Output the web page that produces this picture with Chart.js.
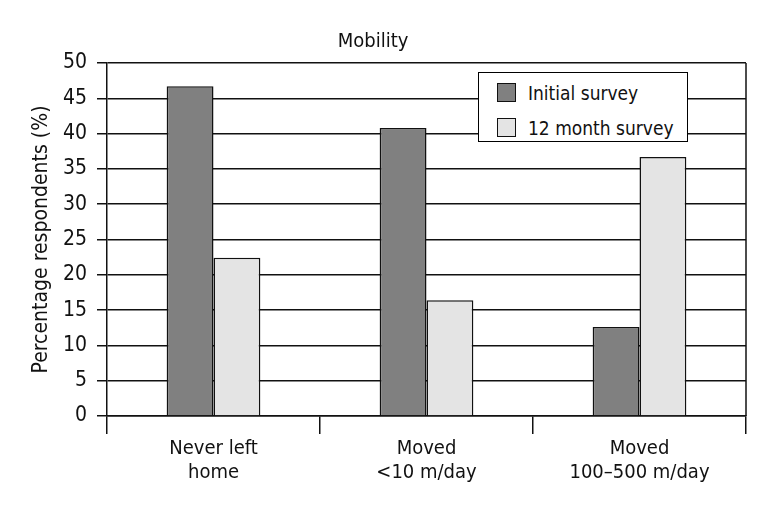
<!DOCTYPE html>
<html>
<head>
<meta charset="utf-8">
<script src="https://cdn.jsdelivr.net/npm/chart.js@4"></script>
<style>
  html, body { margin: 0; padding: 0; background: #fff; }
  #wrap { position: relative; width: 771px; height: 514px; }
  #legend {
    position: absolute; left: 478px; top: 72px; width: 208px; height: 68px;
    border: 1.5px solid #000; background: #fff;
    font-family: "Liberation Sans Narrow", "DejaVu Sans Condensed", sans-serif;
    font-size: 19px; color: #111;
  }
  #legend .item { position: absolute; left: 18px; height: 20px; line-height: 20px; white-space: nowrap; }
  #legend .sw { display: inline-block; width: 17px; height: 17px; border: 1.5px solid #111; vertical-align: top; margin-right: 12px; }
</style>
</head>
<body>
<div id="wrap">
  <canvas id="myChart" width="771" height="514"></canvas>
  <div id="legend"></div>
</div>
<script>
const categories = [["Never left", "home"], ["Moved", "<10 m/day"], ["Moved", "100\u2013500 m/day"]]
const initialSurvey = [46.7, 40.8, 12.6]
const twelveMonthSurvey = [22.4, 16.4, 36.7]
const seriesNames = ["Initial survey", "12 month survey"]
const seriesColors = ["#808080", "#e4e4e4"]

const fontFamily = '"Liberation Sans Narrow", "DejaVu Sans Condensed", sans-serif'

// right border of the plot frame
const frameRight = {
    id: 'frameRight',
    afterDraw(chart) {
        const a = chart.chartArea
        const ctx = chart.ctx
        ctx.save()
        ctx.strokeStyle = '#111'
        ctx.lineWidth = 1.5
        ctx.beginPath()
        ctx.moveTo(a.right, a.top)
        ctx.lineTo(a.right, a.bottom)
        ctx.stroke()
        ctx.restore()
    }
}

const ctx = document.getElementById('myChart').getContext('2d')
const myChart = new Chart(ctx, {
    type: 'bar',
    data: {
        labels: categories,
        datasets: [{
            label: seriesNames[0],
            data: initialSurvey,
            backgroundColor: seriesColors[0],
            borderColor: '#111',
            borderWidth: 1.5,
        }, {
            label: seriesNames[1],
            data: twelveMonthSurvey,
            backgroundColor: seriesColors[1],
            borderColor: '#111',
            borderWidth: 1.5,
        }]
    },
    options: {
        responsive: false,
        animation: false,
        layout: { padding: { left: 0, right: 25, top: 0, bottom: 0 } },
        datasets: { bar: { barPercentage: 1, categoryPercentage: 0.44 } },
        plugins: {
            legend: { display: false },
            tooltip: { enabled: false },
            title: {
                display: true,
                text: 'Mobility',
                color: '#111',
                font: { family: fontFamily, size: 20, weight: 'normal' },
                padding: { top: 30, bottom: 9 },
            },
        },
        scales: {
            x: {
                afterFit: (s) => { s.height = 98 },
                grid: { offset: true, drawOnChartArea: false, tickLength: 18, color: '#111', lineWidth: 1.5 },
                border: { color: '#111', width: 1.5 },
                ticks: { color: '#111', padding: 3, font: { family: fontFamily, size: 20 } },
            },
            y: {
                min: 0,
                max: 50,
                afterFit: (s) => { s.width = 107 },
                grid: { color: '#111', lineWidth: 1.5, tickLength: 10 },
                border: { color: '#111', width: 1.5 },
                ticks: { stepSize: 5, color: '#111', padding: 10, font: { family: fontFamily, size: 21 } },
                title: {
                    display: true,
                    text: 'Percentage respondents (%)',
                    color: '#111',
                    font: { family: fontFamily, size: 21 },
                    padding: { top: 29, bottom: 0 },
                },
            },
        },
    },
    plugins: [frameRight],
})

const legend = document.getElementById('legend')
myChart.data.datasets.forEach((ds, i) => {
    const item = document.createElement('div')
    item.className = 'item'
    item.style.top = (10 + i * 35) + 'px'
    item.innerHTML = '<span class="sw" style="background:' + ds.backgroundColor + '"></span>'
    item.appendChild(document.createTextNode(ds.label))
    legend.appendChild(item)
})
</script>
</body>
</html>
